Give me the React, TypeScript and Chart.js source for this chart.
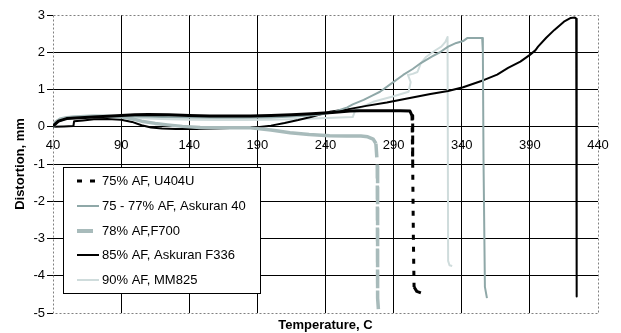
import React, { useEffect, useRef } from 'react';
import { Chart, registerables } from 'chart.js';

Chart.register(...registerables);

const FONT = "'Liberation Sans', Arial, sans-serif";

// Axis ranges / ticks
const xMin = 40;
const xMax = 440;
const xStep = 50;
const yMin = -5;
const yMax = 3;
const yStep = 1;

const xTitle = 'Temperature, C';
const yTitle = 'Distortion, mm';

// Series labels
const seriesLabels = [
  '75% AF, U404U',
  '75 - 77% AF, Askuran 40',
  '78% AF,F700',
  '85% AF, Askuran F336',
  '90% AF, MM825',
];

// 75% AF, U404U
const u404uT = [40, 44, 50, 60, 70, 80, 90, 100, 110, 125, 140, 155, 170, 185, 200, 215, 230, 245, 258, 265, 280, 295, 302, 303.5, 304, 304.5, 305, 307, 310];
const u404uV = [0.02, 0.15, 0.22, 0.24, 0.26, 0.28, 0.3, 0.32, 0.33, 0.32, 0.3, 0.29, 0.29, 0.29, 0.3, 0.32, 0.35, 0.38, 0.42, 0.43, 0.43, 0.43, 0.42, 0.3, -1, -3, -4.3, -4.42, -4.46];

// 75 - 77% AF, Askuran 40
const ask40T = [40, 43, 48, 55, 70, 85, 100, 120, 140, 160, 180, 200, 220, 235, 245, 251, 256, 260, 268, 275, 280, 288, 297, 304, 310, 318, 324, 330, 336, 341, 344, 350, 355, 355.5, 356, 357, 358.5];
const ask40V = [0, 0.12, 0.2, 0.25, 0.28, 0.29, 0.28, 0.26, 0.25, 0.24, 0.24, 0.25, 0.28, 0.32, 0.38, 0.46, 0.52, 0.6, 0.72, 0.85, 0.94, 1.15, 1.39, 1.55, 1.71, 1.88, 2.0, 2.15, 2.25, 2.3, 2.38, 2.38, 2.38, 2.0, -1, -4.3, -4.6];

// 78% AF,F700
const f700T = [40, 42, 45, 50, 60, 70, 80, 90, 97, 105, 115, 124, 135, 148, 165, 185, 200, 214, 228, 243, 255, 266, 271, 275, 277, 278, 278, 278.5, 279];
const f700V = [0, 0.12, 0.2, 0.24, 0.27, 0.28, 0.28, 0.27, 0.22, 0.15, 0.09, 0.05, 0.01, -0.02, -0.03, -0.03, -0.09, -0.16, -0.21, -0.24, -0.25, -0.25, -0.27, -0.33, -0.45, -1, -3, -4.6, -5];

// 85% AF, Askuran F336
const f336T = [40, 48, 55, 55.5, 62, 70, 80, 90, 98, 105, 112, 120, 130, 145, 160, 175, 190, 200, 210, 220, 230, 243, 255, 270, 285, 300, 317, 330, 341, 356, 366, 374, 383, 390, 394, 396, 402, 408, 415, 420, 423, 424, 424.2, 424.5];
const f336V = [0, 0.01, 0.02, 0.15, 0.17, 0.2, 0.21, 0.19, 0.13, 0.04, -0.02, -0.05, -0.06, -0.06, -0.05, -0.03, -0.01, 0.03, 0.1, 0.18, 0.27, 0.4, 0.46, 0.56, 0.65, 0.76, 0.88, 0.96, 1.06, 1.25, 1.4, 1.58, 1.75, 1.93, 2.05, 2.15, 2.39, 2.6, 2.82, 2.92, 2.93, 2.9, 1.2, -4.56];

// 90% AF, MM825
const mm825T = [40, 42, 46, 55, 70, 90, 100, 110, 125, 140, 160, 180, 200, 215, 236, 250, 260, 262, 268, 275, 290, 301, 302.5, 300.5, 304, 307.5, 310, 314, 321, 325, 328, 329.6, 329.6, 330, 331, 333];
const mm825V = [0, 0.15, 0.22, 0.28, 0.3, 0.28, 0.25, 0.22, 0.2, 0.19, 0.18, 0.18, 0.19, 0.2, 0.23, 0.25, 0.26, 0.46, 0.55, 0.67, 0.82, 0.94, 1.2, 1.39, 1.42, 1.47, 1.71, 1.88, 2.06, 2.15, 2.28, 2.41, 2.0, -3.6, -3.72, -3.74];

const toPoints = (t: number[], v: number[]) => t.map((x, i) => ({ x, y: v[i] }));

const steep = (ctx: any) => {
  const dx = Math.abs(ctx.p1.x - ctx.p0.x);
  const dy = Math.abs(ctx.p1.y - ctx.p0.y);
  return dy > 2 && dy > 2.5 * dx;
};

const frameColor = '#808080';

const framePlugin = {
  id: 'plotFrame',
  beforeDatasetsDraw(chart: any) {
    const { ctx, chartArea } = chart;
    ctx.save();
    ctx.strokeStyle = frameColor;
    ctx.lineWidth = 1;
    ctx.setLineDash([2, 2]);
    const l = Math.round(chartArea.left) + 0.5;
    const t = Math.round(chartArea.top) + 0.5;
    const r = Math.round(chartArea.right) + 0.5;
    const b = Math.round(chartArea.bottom) + 0.5;
    ctx.strokeRect(l, t, r - l, b - t);
    ctx.restore();
  },
};

const legendBoxPlugin = {
  id: 'legendBox',
  afterDatasetsDraw(chart: any) {
    const { ctx, chartArea } = chart;
    const x = Math.round(chartArea.left) + 10;
    const y = Math.round(chartArea.bottom) - 146;
    const w = 197;
    const h = 126;
    ctx.save();
    ctx.fillStyle = '#ffffff';
    ctx.fillRect(x, y, w, h);
    ctx.strokeStyle = '#000000';
    ctx.lineWidth = 1;
    ctx.setLineDash([]);
    ctx.strokeRect(x + 0.5, y + 0.5, w, h);
    chart.data.datasets.forEach((ds: any, i: number) => {
      const cy = Math.round(y + 14 + i * 24.8);
      ctx.beginPath();
      ctx.setLineDash(ds.legendDash || []);
      ctx.strokeStyle = ds.borderColor;
      ctx.lineWidth = ds.legendWidth || ds.borderWidth;
      ctx.lineCap = 'butt';
      ctx.moveTo(x + 14, cy);
      ctx.lineTo(x + 36, cy);
      ctx.stroke();
      ctx.setLineDash([]);
      ctx.fillStyle = '#000000';
      ctx.font = `13px ${FONT}`;
      ctx.textBaseline = 'middle';
      ctx.textAlign = 'left';
      ctx.fillText(ds.label, x + 39, cy);
    });
    ctx.restore();
  },
};

export default function App() {
  const ref = useRef<HTMLCanvasElement | null>(null);

  useEffect(() => {
    if (!ref.current) return;
    const chart = new Chart(ref.current, {
      type: 'line',
      data: {
        datasets: [
          {
            label: seriesLabels[0],
            data: toPoints(u404uT, u404uV),
            borderColor: '#000000',
            borderWidth: 3,
            borderDash: [],
            segment: { borderDash: (c: any) => (steep(c) ? [5, 7] : undefined) },
            legendDash: [5, 8],
          } as any,
          {
            label: seriesLabels[1],
            data: toPoints(ask40T, ask40V),
            borderColor: '#8fa8a8',
            borderWidth: 2,
          },
          {
            label: seriesLabels[2],
            data: toPoints(f700T, f700V),
            borderColor: '#a8bbbb',
            borderWidth: 3.5,
            borderDash: [],
            segment: { borderDash: (c: any) => (steep(c) ? [14, 7] : undefined) },
            legendDash: [16, 30],
            legendWidth: 4,
          } as any,
          {
            label: seriesLabels[3],
            data: toPoints(f336T, f336V),
            borderColor: '#000000',
            borderWidth: 2,
          },
          {
            label: seriesLabels[4],
            data: toPoints(mm825T, mm825V),
            borderColor: '#cfdcdc',
            borderWidth: 2,
          },
        ],
      },
      options: {
        responsive: false,
        animation: false,
        events: [],
        elements: {
          point: { radius: 0, hoverRadius: 0 },
          line: { tension: 0, fill: false, borderCapStyle: 'butt', borderJoinStyle: 'round' },
        },
        layout: { padding: { top: 15, right: 23, left: 0, bottom: 0 } },
        plugins: {
          legend: { display: false },
          tooltip: { enabled: false },
        },
        scales: {
          x: {
            type: 'linear',
            position: 'bottom',
            min: xMin,
            max: xMax,
            afterFit: (s: any) => { s.height = 20; },
            ticks: { display: false, stepSize: xStep },
            grid: {
              drawTicks: false,
              color: (c: any) => (c.tick && (c.tick.value === xMin || c.tick.value === xMax) ? 'rgba(0,0,0,0)' : '#000000'),
              lineWidth: 1,
            },
            border: { display: false },
            title: {
              display: true,
              text: xTitle,
              color: '#000000',
              font: { family: FONT, size: 13, weight: 'bold' },
              padding: { top: 0, bottom: 0 },
            },
          },
          x2: {
            type: 'linear',
            axis: 'x',
            position: { y: 0 } as any,
            min: xMin,
            max: xMax,
            afterFit: (s: any) => { s.height = 0; },
            ticks: {
              stepSize: xStep,
              autoSkip: false,
              maxRotation: 0,
              padding: 11,
              color: '#000000',
              font: { family: FONT, size: 13 },
              callback: (v: any) => String(v),
            },
            grid: { display: false, drawTicks: false },
            border: { display: false },
          },
          y: {
            type: 'linear',
            position: 'left',
            min: yMin,
            max: yMax,
            afterFit: (s: any) => { s.width = 53; },
            ticks: {
              stepSize: yStep,
              padding: 2,
              color: '#000000',
              font: { family: FONT, size: 13 },
              callback: (v: any) => String(v),
            },
            grid: {
              drawTicks: true,
              tickLength: 6,
              tickColor: '#000000',
              color: (c: any) => (c.tick && (c.tick.value === yMin || c.tick.value === yMax) ? 'rgba(0,0,0,0)' : '#000000'),
              lineWidth: 1,
            },
            border: { display: false },
            title: {
              display: true,
              text: yTitle,
              color: '#000000',
              font: { family: FONT, size: 13, weight: 'bold' },
              padding: { top: 13, bottom: 0 },
            },
          },
        },
      },
      plugins: [framePlugin, legendBoxPlugin],
    } as any);
    return () => chart.destroy();
  }, []);

  return (
    <div style={{ position: 'absolute', left: 0, top: 0, width: 621, height: 333, background: '#ffffff' }}>
      <canvas ref={ref} width={621} height={333} style={{ display: 'block', width: 621, height: 333 }} />
    </div>
  );
}
